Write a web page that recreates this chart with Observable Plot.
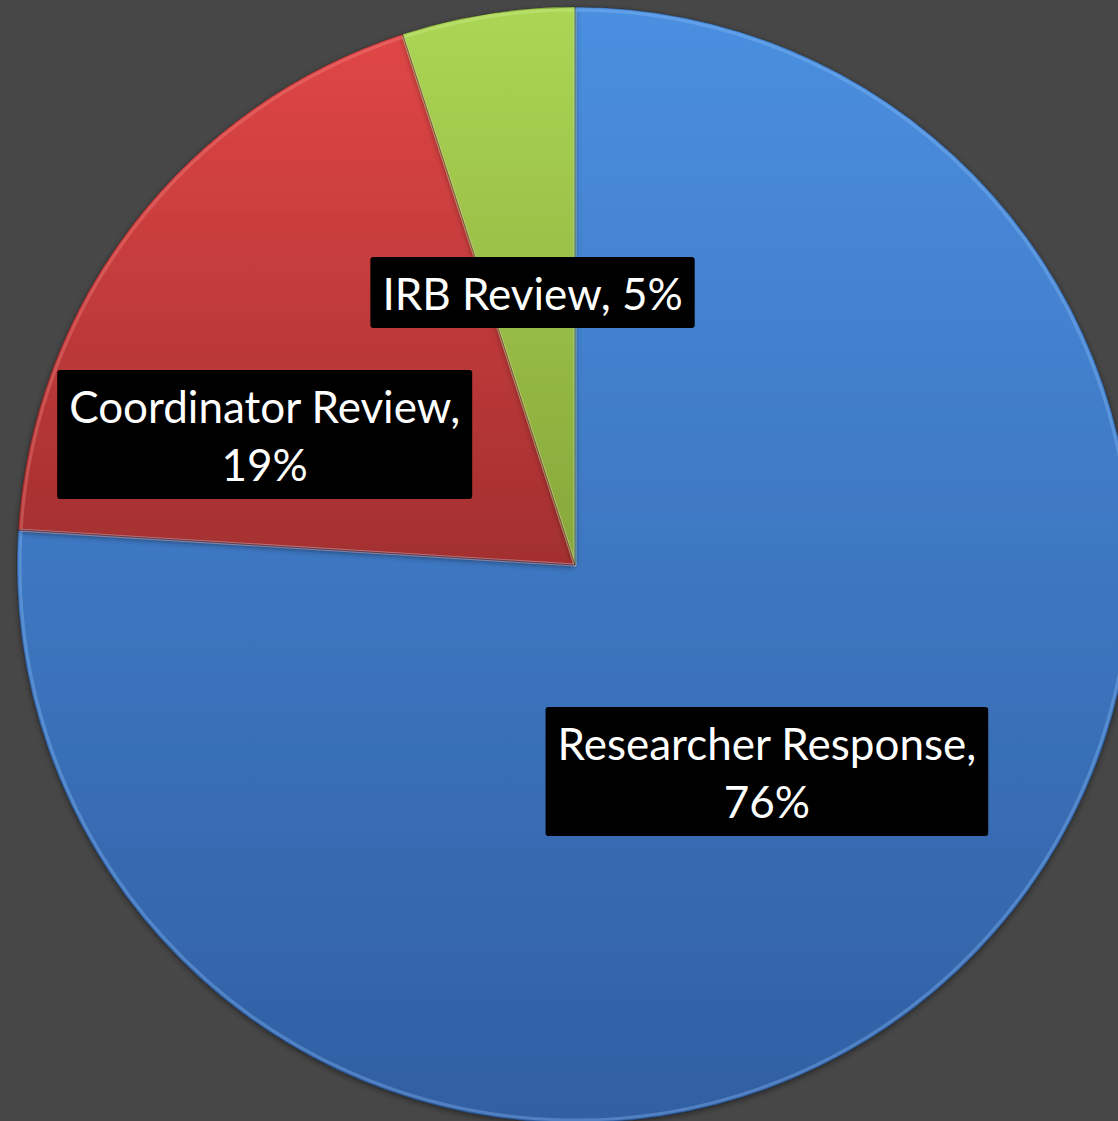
<!DOCTYPE html>
<html>
<head>
<meta charset="utf-8">
<script src="https://cdn.jsdelivr.net/npm/d3@7"></script>
<script src="https://cdn.jsdelivr.net/npm/@observablehq/plot@0.6"></script>
<style>
  html, body { margin: 0; padding: 0; background: #474747; }
  #chart svg { display: block; }
</style>
</head>
<body>
<div id="chart"></div>
<script>
// ---- data ----
const categories = ["Researcher Response", "Coordinator Review", "IRB Review"];
const values = [76, 19, 5];
const labels = ["Researcher Response,\n76%", "Coordinator Review,\n19%", "IRB Review, 5%"];

// ---- styles / layout (not data) ----
const colorTop = ["#4b8fe0", "#e04646", "#abd654"];
const colorBottom = ["#305fa3", "#a32f2f", "#87a73a"];
const edgeColor = ["#8cc0fa", "#f58a8a", "#d2f090"];
const labelX = [0.343, -0.557, -0.077];   // label centre, in pie-radius units
const labelY = [-0.3665, 0.2375, 0.492];

const W = 1118, H = 1121, CX = 575, CY = 565, R = 558;

const slices = d3.pie().sort(null).value(d => d.value)(
  categories.map((c, i) => ({category: c, value: values[i], i}))
);
const labelData = categories.map((c, i) => ({category: c, label: labels[i], x: labelX[i], y: labelY[i]}));

function pieMark(index, scales) {
  const s = (scales && scales.x) ? scales : index;
  const x = s.x, y = s.y;
  const r = x(1) - x(0);
  const g = d3.create("svg:g");
  const defs = g.append("defs");
  slices.forEach(sl => {
    const lg = defs.append("linearGradient").attr("id", "grad" + sl.data.i)
      .attr("x1", 0).attr("y1", 0).attr("x2", 0).attr("y2", 1);
    lg.append("stop").attr("offset", "0%").attr("stop-color", colorTop[sl.data.i]);
    lg.append("stop").attr("offset", "100%").attr("stop-color", colorBottom[sl.data.i]);
  });
  const f = defs.append("filter").attr("id", "shadow").attr("x", "-10%").attr("y", "-10%").attr("width", "120%").attr("height", "120%");
  f.append("feDropShadow").attr("dx", 0).attr("dy", 2).attr("stdDeviation", 3).attr("flood-color", "#000").attr("flood-opacity", 0.45);
  const arc = d3.arc().innerRadius(0).outerRadius(r);
  const arcInner = d3.arc().innerRadius(0).outerRadius(r - 3);
  const pg = g.append("g").attr("transform", `translate(${x(0)},${y(0)})`);
  pg.selectAll("path.slice").data(slices).join("path")
    .attr("class", "slice")
    .attr("d", arc)
    .attr("fill", d => `url(#grad${d.data.i})`)
    .attr("filter", "url(#shadow)");
  pg.selectAll("path.edge").data(slices).join("path")
    .attr("class", "edge")
    .attr("d", arcInner)
    .attr("fill", "none")
    .attr("stroke", d => edgeColor[d.data.i])
    .attr("stroke-opacity", 0.35)
    .attr("stroke-width", 3)
    .attr("stroke-linejoin", "round");
  pg.selectAll("path.dark").data(slices).join("path")
    .attr("class", "dark")
    .attr("d", arc)
    .attr("fill", "none")
    .attr("stroke", "#000")
    .attr("stroke-opacity", 0.25)
    .attr("stroke-width", 1);
  return g.node();
}

const chart = Plot.plot({
  width: W,
  height: H,
  margin: 0,
  x: {domain: [-CX / R, (W - CX) / R], axis: null},
  y: {domain: [-(H - CY) / R, CY / R], axis: null},
  style: {background: "#474747", overflow: "visible"},
  marks: [
    Plot.frame({fill: "#474747", stroke: null}),
    pieMark,
    Plot.text(labelData, {
      x: "x", y: "y", text: "label",
      fill: "white",
      fontSize: 44,
      lineHeight: 1.32,
      fontFamily: "Lato, 'Open Sans', sans-serif",
      textAnchor: "middle",
      className: "lbl"
    })
  ]
});
document.getElementById("chart").appendChild(chart);

// black label boxes sized from the rendered text
const svgRect = chart.getBoundingClientRect();
const boxLayer = d3.select(chart).append("g").attr("class", "boxes");
const texts = Array.from(chart.querySelectorAll("text")).filter(t => t.closest("g") && t.closest("g").getAttribute("class") && t.closest("g").getAttribute("class").includes("lbl"));
const boxes = [];
texts.forEach(t => {
  const bb = t.getBoundingClientRect();
  const lines = t.querySelectorAll("tspan").length || 1;
  const h = lines * 58 + 13;
  const cx = bb.left - svgRect.left + bb.width / 2;
  const cy = bb.top - svgRect.top + bb.height / 2;
  const w = bb.width + 24;
  boxes.push({cx, cy, w, h});
});
const textGroup = texts.length ? texts[0].parentNode : null;
boxes.forEach(b => {
  const rect = document.createElementNS("http://www.w3.org/2000/svg", "rect");
  rect.setAttribute("x", b.cx - b.w / 2);
  rect.setAttribute("y", b.cy - b.h / 2);
  rect.setAttribute("width", b.w);
  rect.setAttribute("height", b.h);
  rect.setAttribute("rx", 3);
  rect.setAttribute("fill", "#000");
  textGroup.parentNode.insertBefore(rect, textGroup);
});
boxLayer.remove();
</script>
</body>
</html>
